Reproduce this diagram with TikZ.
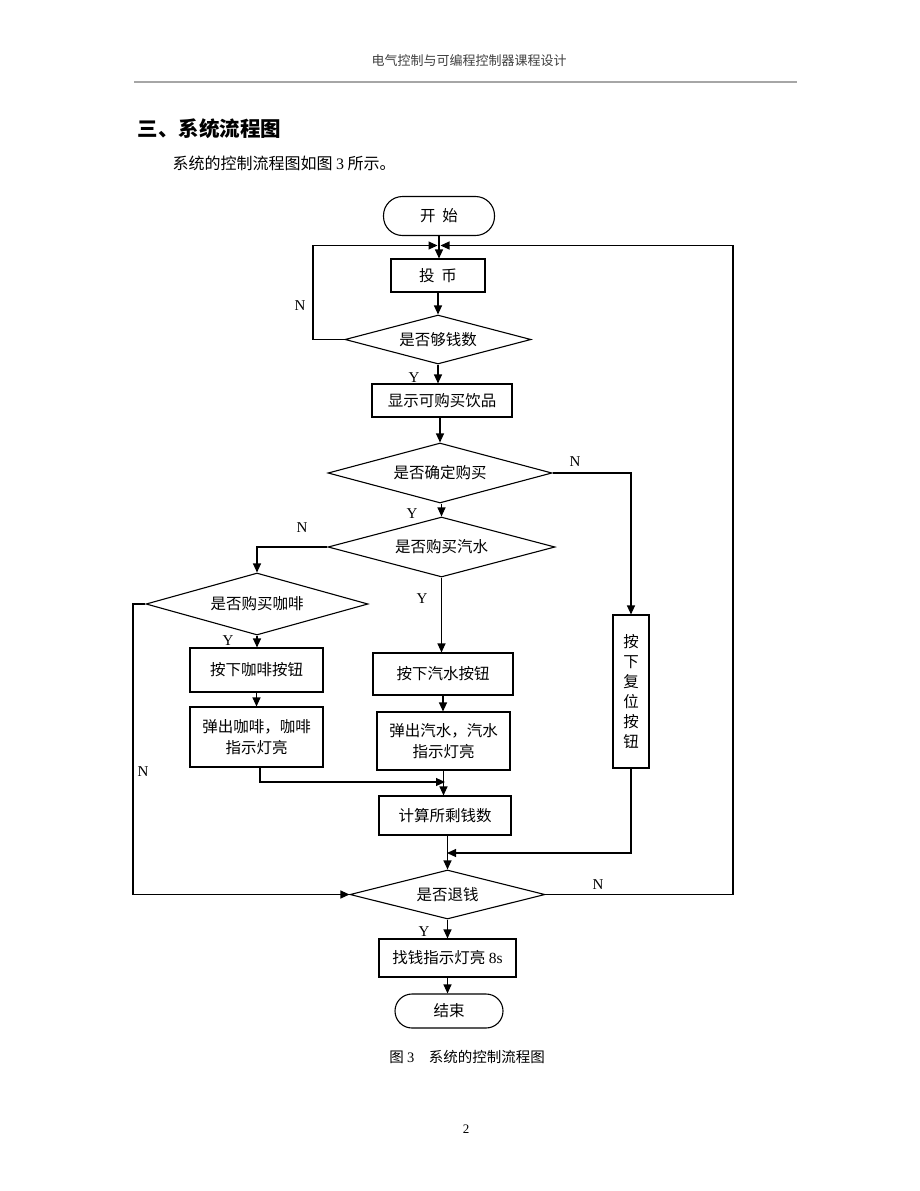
\documentclass[tikz,border=0pt]{standalone}
\usepackage{fontspec}
\setmainfont{Liberation Serif}
\newfontfamily\cjk{Noto Sans CJK SC}
\usetikzlibrary{shapes.geometric,arrows.meta}
\begin{document}
\begin{tikzpicture}[x=1pt,y=-1pt,
  line width=1.1pt,
  arr/.style={-{Triangle[length=9pt,width=8pt]}},
  box/.style={draw,rectangle,inner sep=0pt,align=center,font=\cjk\fontsize{15.5}{21}\selectfont},
  dia/.style={draw,diamond,aspect=4,inner sep=0pt,font=\cjk\fontsize{15.5}{21}\selectfont},
  lbl/.style={font=\fontsize{15}{15}\selectfont,inner sep=0pt}]
\fill[white] (0,0) rectangle (920,1191);
\useasboundingbox (0,0) rectangle (920,1191);

% page header
\node[font=\cjk\fontsize{13}{13}\selectfont, text=black!75] (hdr) at (469,61) {电气控制与可编程控制器课程设计};
\draw[black!35, line width=1.5pt] (134,82) -- (797,82);
\node[anchor=west, inner sep=0pt, font=\cjk\bfseries\fontsize{20.5}{20.5}\selectfont] (h1) at (137,129) {三、系统流程图};
\node[anchor=west, inner sep=0pt, font=\cjk\fontsize{16}{16}\selectfont] (h2) at (172,163) {系统的控制流程图如图 {\rmfamily 3} 所示。};

% nodes
\node[box, rounded corners=19pt, minimum width=111, minimum height=39] (start) at (439,216) {开\hspace{0.45em}始};
\node[box, minimum width=94, minimum height=33] (coin) at (438,275.5) {投\hspace{0.45em}币};
\node[dia, minimum width=186, minimum height=49] (enough) at (438,339.5) {是否够钱数};
\node[box, minimum width=140, minimum height=33] (show) at (442,400.5) {显示可购买饮品};
\node[dia, minimum width=224, minimum height=60] (confirm) at (440,473) {是否确定购买};
\node[dia, minimum width=227, minimum height=60] (soda) at (441.5,547) {是否购买汽水};
\node[dia, minimum width=222, minimum height=62] (coffee) at (257,604) {是否购买咖啡};
\node[box, minimum width=133, minimum height=44] (cbtn) at (256.5,670) {按下咖啡按钮};
\node[box, minimum width=133, minimum height=60] (cout) at (256.5,737) {弹出咖啡，咖啡\\指示灯亮};
\node[box, minimum width=140, minimum height=42] (sbtn) at (443,674) {按下汽水按钮};
\node[box, minimum width=133, minimum height=58] (sout) at (443.5,741) {弹出汽水，汽水\\指示灯亮};
\node[box, minimum width=132, minimum height=39] (calc) at (445,815.5) {计算所剩钱数};
\node[box, minimum width=36, minimum height=153, font=\cjk\fontsize{15.5}{20}\selectfont] (reset) at (631,691.5) {按\\下\\复\\位\\按\\钮};
\node[dia, minimum width=195, minimum height=49] (refund) at (447.5,894.5) {是否退钱};
\node[box, minimum width=137, minimum height=38] (change) at (447.5,958) {找钱指示灯亮 {\rmfamily 8s}};
\node[box, rounded corners=17pt, minimum width=108, minimum height=34] (end) at (449,1011) {结束};

% helper coordinates
\coordinate (jt) at (439,245.5);
\coordinate (lpL) at (313,339.5);
\coordinate (lpR) at (733,894.5);
\coordinate (cl) at (133,604);
\coordinate (m1) at (445,782);
\coordinate (m2) at (447,853);

% connectors
\draw[arr] (start.south) -- (start.south |- coin.north);
\draw[arr] (enough.west) -- (lpL) |- ([xshift=-1.5pt]jt);
\draw[arr] (refund.east) -- (lpR) |- ([xshift=1.5pt]jt);
\draw[arr] (coin.south) -- (coin.south |- enough.north);
\draw[arr] (enough.south) -- (enough.south |- show.north);
\draw[arr] (confirm.north |- show.south) -- (confirm.north);
\draw[arr] (soda.north |- confirm.south) -- (soda.north);
\draw[arr] (confirm.east) -| (reset.north);
\draw[arr] (soda.west) -| (coffee.north);
\draw[arr] (soda.south) -- (soda.south |- sbtn.north);
\draw[arr] (sbtn.south) -- (sbtn.south |- sout.north);
\draw[arr] (sout.south) -- (sout.south |- calc.north);
\draw[arr] (coffee.south) -- (coffee.south |- cbtn.north);
\draw[arr] (cbtn.south) -- (cbtn.south |- cout.north);
\draw[arr] ([xshift=3.5pt]cout.south) |- (m1);
\draw[arr] (coffee.west) -- (cl) |- (refund.west);
\draw[arr] (refund.north |- calc.south) -- (refund.north);
\draw[arr] (reset.south) |- (m2);
\draw[arr] (refund.south) -- (refund.south |- change.north);
\draw[arr] (change.south) -- (change.south |- end.north);

% labels
\node[lbl] (l1) at (300,306) {N};
\node[lbl] (l2) at (414,378) {Y};
\node[lbl] (l3) at (575,462) {N};
\node[lbl] (l4) at (412,514) {Y};
\node[lbl] (l5) at (302,528) {N};
\node[lbl] (l6) at (422,599) {Y};
\node[lbl] (l7) at (228,641) {Y};
\node[lbl] (l8) at (143,772) {N};
\node[lbl] (l9) at (598,885) {N};
\node[lbl] (l10) at (424,932) {Y};

% caption and page number
\node[font=\cjk\fontsize{14.5}{14.5}\selectfont] (cap) at (467,1057) {图 {\rmfamily 3}\quad 系统的控制流程图};
\node[font=\fontsize{13}{13}\selectfont] (pg) at (466,1129) {2};
\end{tikzpicture}
\end{document}
